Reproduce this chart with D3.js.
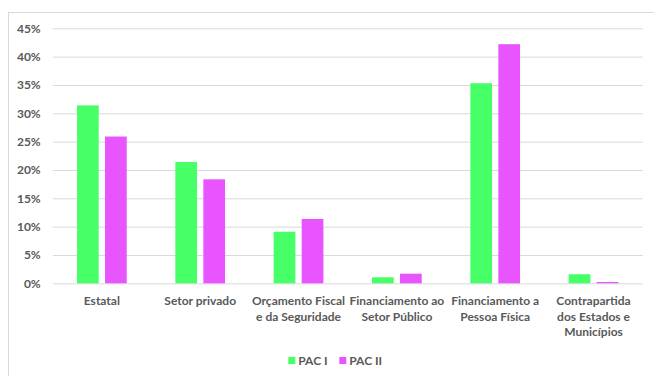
<!DOCTYPE html>
<html><head><meta charset="utf-8">
<script src="https://cdn.jsdelivr.net/npm/d3@7"></script>
<style>body{margin:0;background:#fff;} svg{display:block;}</style>
</head><body>
<svg id="c" width="654" height="376"></svg>
<script>
const categories = ["Estatal","Setor privado","Orçamento Fiscal e da Seguridade","Financiamento ao Setor Público","Financiamento a Pessoa Física","Contrapartida dos Estados e Municípios"];
const categoryLines = [["Estatal"],["Setor privado"],["Orçamento Fiscal","e da Seguridade"],["Financiamento ao","Setor Público"],["Financiamento a","Pessoa Física"],["Contrapartida","dos Estados e","Municípios"]];
const seriesNames = ["PAC I","PAC II"];
const pac1 = [31.4, 21.4, 9.1, 1.06, 35.3, 1.6];
const pac2 = [25.9, 18.35, 11.35, 1.7, 42.2, 0.23];
const yTicks = [0,5,10,15,20,25,30,35,40,45];
const colors = ["#47FF66","#E855FF"];

const svg = d3.select("#c");
const font = "Lato, 'Open Sans', sans-serif";
const textCol = "#595959";

// outer border
svg.append("rect").attr("x",8.5).attr("y",12.5).attr("width",700).attr("height",400)
  .attr("fill","none").attr("stroke","#d9d9d9").attr("stroke-width",1);

const pL = 52.7, pR = 642.7, pT = 28.3, pB = 283.3;
const x = d3.scaleBand().domain(categories).range([pL,pR]);
const y = d3.scaleLinear().domain([0,45]).range([pB,pT]);
const x1 = d3.scaleBand().domain(seriesNames).range([0,x.bandwidth()]).paddingInner(0.225).paddingOuter(0.868);

// grid
const yAxis = d3.axisLeft(y).tickValues(yTicks).tickFormat(d=>d+"%").tickSize(-(pR-pL)).tickPadding(12);
const ga = svg.append("g").attr("transform",`translate(${pL},0)`).call(yAxis);
ga.select(".domain").remove();
ga.selectAll(".tick line").attr("stroke","#d9d9d9").attr("stroke-width",1);
ga.selectAll(".tick text").attr("fill",textCol).attr("font-family",font).attr("font-size","12px").attr("font-weight","bold");

// bars
const data = categories.map((c,i)=>({c, vals:[pac1[i],pac2[i]]}));
const gc = svg.append("g");
data.forEach(d=>{
  d.vals.forEach((v,j)=>{
    gc.append("rect")
      .attr("x", x(d.c)+x1(seriesNames[j]))
      .attr("y", y(v))
      .attr("width", x1.bandwidth())
      .attr("height", y(0)-y(v))
      .attr("fill", colors[j]);
  });
});

// x labels
categories.forEach((c,i)=>{
  const t = svg.append("text").attr("text-anchor","middle").attr("fill",textCol)
    .attr("font-family",font).attr("font-size","12px").attr("font-weight","bold");
  categoryLines[i].forEach((ln,k)=>{
    t.append("tspan").attr("x", x(c)+x.bandwidth()/2).attr("y", 305+k*15.7).text(ln);
  });
});

// legend
const legX = [288.3, 339.3];
seriesNames.forEach((s,j)=>{
  svg.append("rect").attr("x",legX[j]).attr("y",357).attr("width",7).attr("height",7).attr("fill",colors[j]);
  svg.append("text").attr("x",legX[j]+10).attr("y",365).attr("fill",textCol)
    .attr("font-family",font).attr("font-size","12px").attr("font-weight","bold").text(s);
});
</script>
</body></html>
